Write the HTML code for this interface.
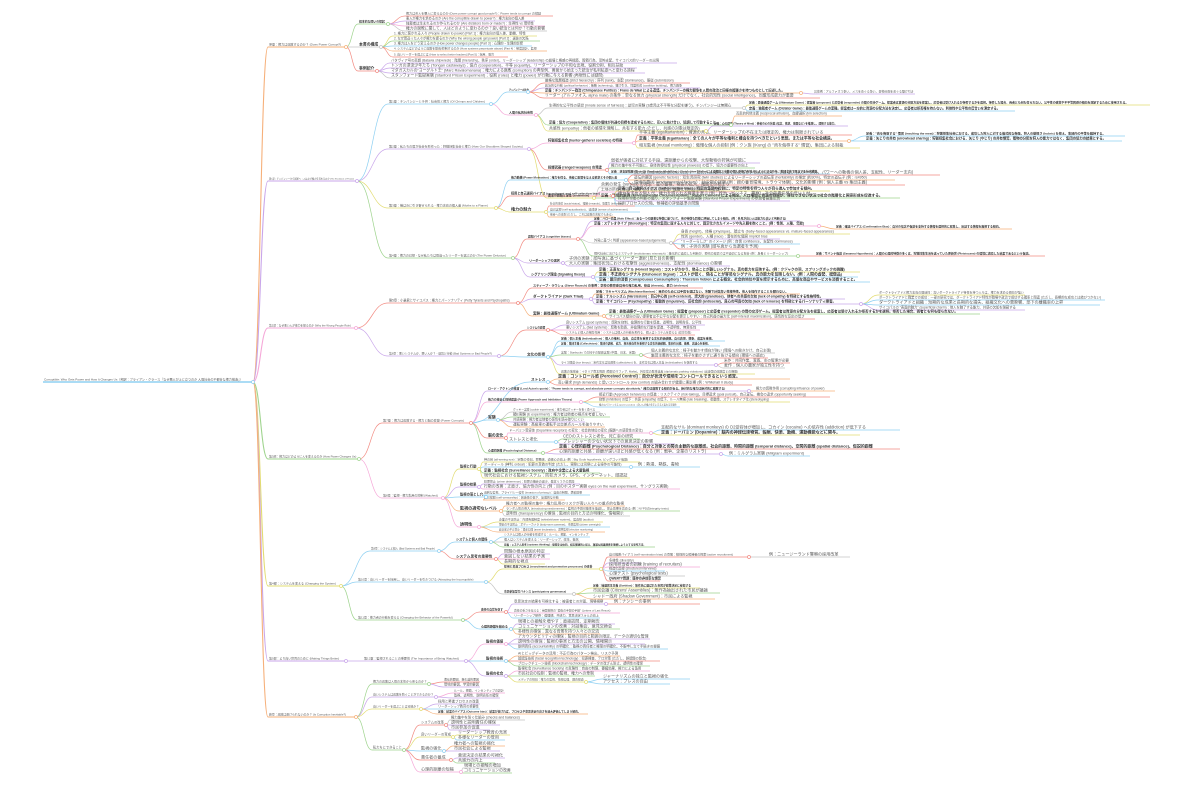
<!DOCTYPE html>
<html><head><meta charset="utf-8">
<style>
html,body{margin:0;padding:0;background:#fff;width:1200px;height:790px;overflow:hidden}
svg{display:block}
text{font-family:"Liberation Sans","Noto Sans CJK JP",sans-serif;fill:#5a5a5a}
text.b{fill:#333}
</style></head>
<body>
<svg id="s" width="1200" height="790" viewBox="0 0 1200 790" xmlns="http://www.w3.org/2000/svg"></svg>
<script>
const O='#f6b07a',G='#9fd48e',R='#f28b82',P='#c9a6ea',B='#8fd0f2',Y='#e2dc72',K='#f5a8d8',N='#c4c4c4';
const svg=document.getElementById('s');const NS='http://www.w3.org/2000/svg';
const lines=document.createElementNS(NS,'g');const dots=document.createElementNS(NS,'g');const texts=document.createElementNS(NS,'g');
texts.setAttribute('transform','scale(0.1)');
svg.appendChild(lines);svg.appendChild(texts);svg.appendChild(dots);
const dotted=new Set();
function est(t){let s=0;for(const ch of t){const c=ch.charCodeAt(0);s+=(c>0x2e80)?1:0.52;}return s;}
function n(p,x,y,end,c,t,b,fs){
  const o={x,y,end,c};
  const w=end-x;
  const sw=p?(p.p?0.7:1.1):1.4;
  const path=document.createElementNS(NS,'path');
  let d='';
  if(p){const sx=p.end+1,sy=p.y+1,mx=(sx+x)/2;d=`M${sx},${sy} C${mx},${sy} ${mx},${y+1} ${x},${y+1} `;}
  else d=`M${x},${y+1} `;
  d+=`L${end},${y+1}`;
  path.setAttribute('d',d);path.setAttribute('fill','none');path.setAttribute('stroke',c);path.setAttribute('stroke-width',sw);
  lines.appendChild(path);
  const te=document.createElementNS(NS,'text');
  te.setAttribute('x',(x+1)*10);te.setAttribute('y',(y-0.6)*10);
  let f=fs||4.1;
  const target=Math.max(4,w-2);
  const e=est(t)*f*(b?1.04:1);
  if(e>target)f=Math.max(2.2,f*target/e);
  te.setAttribute('font-size',(f*10).toFixed(1));
  if(b){te.setAttribute('font-weight','bold');te.setAttribute('class','b');}
  te.textContent=t;texts.appendChild(te);
  if(p&&!dotted.has(p)){dotted.add(p);const ci=document.createElementNS(NS,'circle');ci.setAttribute('cx',p.end+1);ci.setAttribute('cy',p.y+1);ci.setAttribute('r',1.5);ci.setAttribute('fill','#fff');ci.setAttribute('stroke',p.c);ci.setAttribute('stroke-width',0.7);dots.appendChild(ci);}
  o.p=p;return o;
}
const r=n(null,43,381,252,B,`Corruptible: Who Gets Power and How It Changes Us（邦訳：ブライアン・クラース『なぜ悪人が上に立つのか 人間社会の不都合な権力構造』）`,0,4.5);

/* 序章 */
const A=n(r,268,46,345,O,`序章：権力は腐敗するのか？ (Does Power Corrupt?)`,0,4.3);
const A1=n(A,358,23,387,G,`根本的な問いの提起`,1);
n(A1,405,15,553,R,`権力は善人を悪人に変えるのか (Does power corrupt good people?)：Power tends to corrupt の検証`);
n(A1,405,20,535,P,`悪人が権力を求めるのか (Are the corruptible drawn to power?)：権力志向の個人差`);
n(A1,405,25,545,K,`独裁者は生まれるのか作られるのか (Are dictators born or made?)：生得性 vs 環境性`);
n(A1,405,30,547,N,`権力の腐敗に関して、人はどのように変わるのか？良い統治とは何か？行動の影響`);
const A2=n(A,358,46,380,N,`本書の構成`,1);
n(A2,393,35,537,Y,`1. 権力に惹かれる人々 (People drawn to power) [Part 1]：権力志向の個人差、動機、特性`);
n(A2,393,40,540,G,`2. なぜ間違った人々が権力を握るのか (Why the wrong people get power) [Part 2]：選抜の欠陥`);
n(A2,393,45,532,B,`3. 権力は人をどう変えるのか (How power changes people) [Part 3]：心理的・生理的影響`);
n(A2,393,50,547,O,`4. システムはどのように腐敗を助長/抑制するのか (How systems perpetuate abuse) [Part 4]：制度設計、監視`);
n(A2,393,56,508,R,`5. 良いリーダーを選ぶには (How to select better leaders) [Part 5]：採用、教育`);
const A3=n(A,358,70,376,R,`事例紹介`,1);
n(A3,390,62,677,P,`バタヴィア号の悲劇 (Batavia shipwreck)：階層 (hierarchy)、秩序 (order)、リーダーシップ (leadership) の崩壊と権威の再構築、殺戮行為、恐怖支配、サイコパス的リーダーの出現`);
n(A3,390,67,637,P,`トンガの漂流少年たち (Tongan castaways)：協力 (cooperation)、平等 (equality)、リーダーシップの平和な出現、役割分担、相互扶助`);
n(A3,390,72,645,P,`マダガスカルの"ヨーグルト王" (Marc Ravalomanana)：権力による腐敗 (corruption) の典型例、善意から始まった統治が私利私欲へと変わる過程`);
n(A3,390,77,623,N,`スタンフォード監獄実験 (Stanford Prison Experiment)：役割 (roles) と権力 (power) が行動に与える影響 (再現性には疑問)`);

/* 第1部 */
const Bp=n(r,268,180,356,P,`第1部：チンパンジーから国家へ：人はなぜ権力を求めるのか (The Evolution of Power)`,0,4.3);
const B1=n(Bp,388,103,490,B,`第1章：チンパンジーと子供：社会性と権力 (Of Chimps and Children)`);
const B1a=n(B1,508,91,527,B,`チンパンジーの社会`,1);
n(B1a,544,82,690,R,`厳格な階層構造 (strict hierarchy)：序列 (rank)、支配 (dominance)、服従 (submission)`);
n(B1a,544,87,700,P,`政治的な行動 (political behavior)：策略 (scheming)、駆け引き、同盟形成 (coalition building)、権力闘争`);
const b13=n(B1a,544,92,800,O,`定義：チンパンジー政治 (Chimpanzee Politics)：Frans de Waal による造語。チンパンジーの権力闘争を人間の政治と同様の複雑さを持つものとして記述した。`,1);
n(b13,813,93,915,P,`具体例：アルファオス争い、メスをめぐる争い、食物分配をめぐる駆け引き`);
n(B1a,544,97,820,R,`リーダー (アルファオス, alpha male) の条件：単なる体力 (physical strength) だけでなく、社会的知性 (social intelligence)、同盟形成能力が重要`);
const B1b=n(B1,508,114,535,K,`人間の私的社会性`,1);
const b21=n(B1b,548,107,743,N,`生得的な公平性の感覚 (innate sense of fairness)：幼児の実験 (3歳児は不平等な分配を嫌う)、チンパンジーは無関心`);
n(b21,748,104,1150,Y,`定義：最後通牒ゲーム (Ultimatum Game)：提案者 (proposer) と応答者 (responder) の間の交渉ゲーム。提案者は資源の分配方法を提案し、応答者は受け入れるか拒否するかを選択。拒否した場合、両者とも何も得られない。公平性の感覚や不平等回避の傾向を測定するために使用される。`,1);
n(b21,748,110,1015,B,`定義：独裁者ゲーム (Dictator Game)：最後通牒ゲームの変種。提案者は一方的に資源の分配方法を決定し、応答者は拒否権を持たない。利他性や公平性の度合いを測定する。`,1);
const b22=n(B1b,548,124,730,G,`定義：協力 (Cooperative)：集団の個体が共通の目標を達成するために、互いに助け合い、協調して行動すること。`,1);
n(b22,735,115,842,O,`互恵的利他主義 (reciprocal altruism)、血縁選択 (kin selection)`);
const b23=n(B1b,548,130,705,Y,`共感性 (empathy)：他者の感情を理解し、共有する能力 (ただし、共感の対象は限定的)`);
n(b23,713,125,848,P,`定義：心の理論 (Theory of Mind)：他者の心の状態 (信念、欲求、意図など) を推測し、理解する能力。`,1);
const B2=n(Bp,388,148,528,P,`第2章：私たちの肩が社会を形作った：狩猟採集社会と権力 (How Our Shoulders Shaped Society)`);
const B2a=n(B2,547,142,633,K,`狩猟採集社会 (hunter-gatherer societies) の特徴`,1);
n(B2a,638,134,852,R,`平等主義 (egalitarianism)：資源の共有、リーダーシップの不在または限定的、権力は制限されている`);
const b2a2=n(B2a,638,140,848,O,`定義：平等主義 (Egalitarian)：全ての人々が平等な権利と機会を持つべきだという思想。または平等な社会構造。`,1);
n(b2a2,865,135,1125,B,`定義："肉を侮辱する" 慣習 (insulting the meat)：狩猟採集社会における、成功した狩人に対する儀式的な侮辱。狩人の傲慢さ (hubris) を抑え、集団内の平等を維持する。`,1);
n(b2a2,865,140,1122,B,`定義：矢じりの共有 (arrowhead sharing)：狩猟採集社会における、矢じり (やじり) の共有慣習。獲物の分配を狩人の能力ではなく、集団の協力の結果とする。`,1);
n(B2a,638,147,860,Y,`相互監視 (mutual monitoring)：傲慢な個人の抑制 (例：クン族 (!Kung) の "肉を侮辱する" 慣習)、集団による制裁`);
const B2b=n(B2,547,169,606,R,`投擲武器 (ranged weapons) の発達`,1);
n(B2b,610,162,760,P,`弱者が強者に対抗する手段、遠距離からの攻撃、大型動物の狩猟が可能に`);
n(B2b,610,167,755,G,`権力の集中を不可能に、身体的優位性 (physical prowess) の低下、協力の重要性の向上`);
n(B2b,610,173,830,B,`定義：逆支配階層 (Reverse Dominance Hierarchy)：Christopher Boehm による概念。少数の個人が権力を独占しようとするのを、集団全体で阻止する社会構造。`,1);
const B2c=n(B2,547,197,593,Y,`農業の開始と定住 (sedentism)`,1);
n(B2c,600,186,760,N,`余剰の発生 (surplus) の発生：富の蓄積、格差の拡大、階層化の始まり`);
n(B2c,600,191,735,K,`土地の所有と防衛：戦争 (warfare) の増加、階層化 (stratification) の促進`);
n(B2c,600,197,900,G,`定義：環境的限界 (Environmental Circumscription)：Robert Carneiro による概念。人口増加と資源の制限が、移住できない状況で社会の階層化と国家形成を促進する。`,1);
const B3=n(Bp,388,207,495,Y,`第3章：蛾は炎に引き寄せられる - 権力志向の個人差 (Moths to a Flame)`);
const B3a=n(B3,510,179,625,B,`権力動機 (Power Motivation)：権力を得る、他者に影響を与える欲求とその個人差`,1);
n(B3a,633,174,940,R,`個人差 (individual differences)：一部の人は権力を強く求めるが、他の人はそうではない (ステータス、パワーへの動機の個人差、支配性、リーダー志向)`);
n(B3a,633,179,895,O,`遺伝的要因 (genetic factors)：双生児研究 (twin studies) によるリーダーシップの遺伝率 (heritability) の推定 (約30%)、特定の遺伝子 (例：rs4950)`);
n(B3a,633,184,905,R,`環境的要因 (environmental factors)：幼少期の経験 (例：親の養育環境、トラウマ体験)、文化的影響 (例：個人主義 vs 集団主義)`);
const B3b=n(B3,510,195,612,R,`採用と自己選択バイアス (recruitment and self-selection bias)`,1);
n(B3b,617,190,830,Y,`定義：自己選択バイアス (Self-Selection Bias)：特定の集団や役割に、特定の特性を持つ人々が自ら進んで参加する傾向。`,1);
n(B3b,617,195,823,G,`権力を求める個人が、権力を得られる職業を選ぶ (例：政治、ビジネス、警察)、社会的責任感の低い人材`);
n(B3b,617,200,790,P,`採用担当者の判断の偏り、スタンフォード監獄実験 (Stanford Prison Experiment) の参加者募集広告`);
n(B3b,617,205,700,B,`採用プロセスの欠陥、候補者の評価基準の問題`);
const B3c=n(B3,510,211,545,Y,`権力の魅力`,1);
n(B3c,549,205,635,R,`社会的地位 (social status)、報酬 (rewards)、影響力 (influence)`);
n(B3c,549,211,640,B,`自己実現 (self-actualization)、達成感 (sense of achievement)`);
n(B3c,549,216,615,O,`他者への支配 (ただし、これは腐敗の兆候でもある)`);
const B4=n(Bp,388,257,512,G,`第4章：権力の幻想 - なぜ私たちは間違ったリーダーを選ぶのか (The Power Delusion)`);
const B4a=n(B4,527,238,577,R,`認知バイアス (cognitive biases)`,1);
n(B4a,593,220,800,P,`定義：ハロー効果 (Halo Effect)：ある一つの顕著な特徴に基づいて、他の特徴も同様に評価してしまう傾向。(例：外見が良い人は能力も高いと判断する)`,1);
const b4a2=n(B4a,593,225,818,K,`定義：ステレオタイプ (Stereotype)：特定の集団に属する人々に対して、固定化されたイメージや先入観を抱くこと。(例：性別、人種、年齢)`,1);
n(b4a2,835,228,1012,O,`定義：確証バイアス (Confirmation Bias)：自分の信念や仮説を支持する情報を選択的に収集し、反証する情報を無視する傾向。`,1);
const b4a3=n(B4a,593,242,670,N,`外見に基づく判断 (appearance-based judgements)`);
n(b4a3,680,233,850,Y,`身長 (height)、体格 (physique)、顔立ち (baby-faced appearance vs. mature-faced appearance)`);
n(b4a3,680,238,780,P,`性別 (gender)、人種 (race)：潜在的な偏見 implicit bias`);
n(b4a3,680,243,800,B,`"リーダーらしさ" のイメージ (例：自信 confidence、支配性 dominance)`);
n(b4a3,680,248,790,R,`例：子供の実験 (顔写真から当選者を予測)`);
const b4a4=n(B4a,593,255,797,G,`現代社会におけるミスマッチ (evolutionary mismatch)：進化的に適応した判断が、現代の環境では不適切になる場合 (例：身長とリーダーシップ)`);
n(b4a4,815,255,1045,R,`定義：サバンナ仮説 (Savanna Hypothesis)：人間の心理的特徴の多くは、狩猟採集生活を送っていた更新世 (Pleistocene) の環境に適応した結果であるという仮説。`,1);
const B4b=n(B4,528,262,562,P,`リーダーシップの選択`,1);
n(B4b,568,260,700,N,`子供の実験：顔写真に基づくリーダー選択 (見た目の影響)`);
n(B4b,568,265,730,P,`大人の実験：集団状況における攻撃性 (aggressiveness)、支配性 (dominance) の影響`);
const B4c=n(B4,530,276,592,P,`シグナリング理論 (Signaling theory)`,1);
n(B4c,598,271,860,Y,`定義：正直なシグナル (Honest Signal)：コストがかかり、偽ることが難しいシグナル。真の能力を反映する。(例：クジャクの羽、スプリングボックの跳躍)`,1);
n(B4c,598,276,858,B,`定義：不正直なシグナル (Dishonest Signal)：コストが低く、偽ることが容易なシグナル。真の能力を反映しない。(例：人間の虚勢、模倣品)`,1);
n(B4c,598,281,870,B,`定義：顕示的消費 (Conspicuous Consumption)：Thorstein Veblen による概念。社会的地位や富を誇示するために、高価な商品やサービスを消費すること。`,1);

/* 第2部 */
const C=n(r,268,327,355,K,`第2部：なぜ悪い人が権力を握るのか (Why the Wrong People Rule)`,0,4.3);
const C1=n(C,388,302,517,R,`第5章：小暴君とサイコパス：権力とパーソナリティ (Petty Tyrants and Psychopaths)`);
n(C1,532,287,703,R,`スティーブ・ラウシュ (Steve Rausch) の事例：学校の教育委員会の権力乱用、脅迫 (threats)、暴力 (violence)`,1);
const C1b=n(C1,532,298,590,P,`ダークトライアド (Dark Triad)`,1);
n(C1b,595,293,800,O,`定義：マキャベリズム (Machiavellianism)：目的のためには手段を選ばない、冷酷で計算高い性格特性。他人を操作することを厭わない。`,1);
n(C1b,595,298,845,P,`定義：ナルシシズム (Narcissism)：自己中心的 (self-centered)、誇大的 (grandiose)、他者への共感の欠如 (lack of empathy) を特徴とする性格特性。`,1);
const c13=n(C1b,595,303,860,P,`定義：サイコパシー (Psychopathy)：衝動的 (impulsive)、反社会的 (antisocial)、良心の呵責の欠如 (lack of remorse) を特徴とするパーソナリティ障害。`,1);
n(c13,878,294,1025,Y,`ダークトライアドと権力志向の関連性：高いダークトライアド特性を持つ人々は、権力を求める傾向が強い`);
n(c13,878,299,1105,B,`ダークトライアドと職業での成功：一部の研究では、ダークトライアド特性が職場や政治で成功する確率と関連 (ただし、長期的な成功とは結びつかない)`);
n(c13,878,304,1100,B,`ダークトライアドと組織：短期的な成果と長期的な損失、組織文化への悪影響、部下の離職率の上昇`);
n(c13,878,309,1025,P,`サイコパスの "表面的魅力" (superficial charm)：他人を魅了する能力、共感の欠如を隠蔽する`);
const C1c=n(C1,532,315,603,O,`実験：最後通牒ゲーム (Ultimatum Game)`,1);
n(C1c,608,313,980,G,`定義：最後通牒ゲーム (Ultimatum Game)：提案者 (proposer) と応答者 (responder) の間の交渉ゲーム。提案者は資源の分配方法を提案し、応答者は受け入れるか拒否するかを選択。拒否した場合、両者とも何も得られない。`,1);
n(C1c,608,318,815,R,`サイコパス傾向の高い提案者は不公平な分配を提示しやすい：自己利益の最大化 (self-interest maximization)、感情的な反応の低さ`);
const C2=n(C,388,355,498,P,`第6章：悪いシステムか、悪い人か？ - 環境と行動 (Bad Systems or Bad People?)`);
const C2a=n(C2,526,329,547,R,`システムの影響`,1);
n(C2a,565,324,705,P,`良いシステム (good systems)：腐敗を抑制、倫理的な行動を促進、透明性、説明責任、公平性`);
n(C2a,565,329,700,K,`悪いシステム (bad systems)：腐敗を助長、非倫理的な行動を促進、不透明性、無責任性`);
n(C2a,565,334,695,R,`システムと個人の相互作用：システムは個人の行動を形作る、個人はシステムを変える (双方向性)`);
const C2b=n(C2,526,356,547,B,`文化の影響`,1);
n(C2b,560,340,725,B,`定義：個人主義 (Individualism)：個人の権利、自由、自立性を重視する文化的価値観。自己表現、競争、成果を重視。`,1);
n(C2b,560,345,720,B,`定義：集団主義 (Collectivism)：集団の調和、協力、相互依存性を重視する文化的価値観。集団の目標、義務、忠誠心を重視。`,1);
const c2b3=n(C2b,560,354,640,G,`実験：Starbucks での椅子の配置実験 (中国、日本、米国)`);
n(c2b3,650,352,775,N,`個人主義的な文化：椅子を動かす傾向が強い (環境への働きかけ、自己主張)`);
n(c2b3,650,357,768,R,`集団主義的な文化：椅子を動かさずに通り抜ける傾向 (環境への適応)`);
const c2b4=n(C2b,560,364,715,P,`ライス理論 (rice theory)：米作文化は協調性 (collectivism) を、麦作文化は個人主義 (individualism) を促進する`);
n(c2b4,723,362,790,R,`米作：共同作業、灌漑、水の管理が必要`);
n(c2b4,723,367,785,N,`麦作：個人の農家が独立性を持つ`);
n(C2b,560,373,755,Y,`腐敗の地域差：イタリア南北問題 (南部のマフィア, Mafia)、外交官の駐車違反 (diplomatic parking violations) (出身国の腐敗度との相関)`);

/* 第3部 */
const D=n(r,268,458,358,G,`第3部：権力はどのように人を変えるのか (How Power Changes Us)`,0,4.3);
const D1=n(D,382,422,470,R,`第7章：権力は腐敗する - 権力と脳の変容 (Power Corrupts)`);
const Ds=n(D1,530,381,547,B,`ストレス`,1);
n(Ds,557,378,790,O,`定義：コントロール感 (Perceived Control)：自分が状況や環境をコントロールできるという感覚。`,1);
n(Ds,557,384,752,R,`高い要求 (high demands) と低いコントロール (low control) の組み合わせが健康に悪影響 (例：Whitehall II study)`);
const Da=n(D1,487,390,748,P,`ロード・アクトンの格言 (Lord Acton's quote)："Power tends to corrupt, and absolute power corrupts absolutely." (権力は腐敗する傾向がある。絶対的な権力は絶対的に腐敗する)`,1);
n(Da,755,390,835,O,`権力の腐敗作用 (corrupting influence of power)`);
const Db=n(D1,487,401,580,K,`権力の接近と抑制理論 (Power Approach and Inhibition Theory)`,1);
n(Db,598,396,830,R,`接近行動 (Approach behaviors) の促進：リスクテイク (risk-taking)、目標追求 (goal pursuit)、自己宣伝、機会の追求 (opportunity seeking)`);
n(Db,598,401,790,Y,`抑制 (inhibition) の低下：共感 (empathy) の低下、ルール無視 (rule breaking)、衝動性、ステレオタイプ化 (stereotyping)`);
n(Db,598,406,680,B,`権力のパラドックス (power paradox)：良い人が権力を手にすると変わる可能性`);
const Dc=n(D1,487,419,497,B,`実験`,1);
n(Dc,512,411,600,N,`クッキー実験 (cookie experiment)：権力者はクッキーを多く食べる`);
n(Dc,512,416,610,G,`額E実験 (E experiment)：権力者は他者の視点を考慮しない`);
n(Dc,512,421,585,P,`共感実験：権力者は他者の感情を読み取りにくい`);
n(Dc,512,426,605,O,`運転実験：高級車の運転手は交差点ルールを破りやすい`);
const Dd=n(D1,487,437,505,R,`脳の変化`,1);
const dd1=n(Dd,508,432,650,K,`ドーパミン受容体 (Dopamine receptors) の変化：社会的地位の変化 (報酬への感受性の変化)`);
n(dd1,660,429,900,B,`支配的なサル (dominant monkeys) の D2受容体が増加し、コカイン (cocaine) への依存性 (addiction) が低下する`);
n(dd1,660,434,860,Y,`定義：ドーパミン (Dopamine)：脳内の神経伝達物質。報酬、快楽、動機、運動機能などに関与。`,1);
const dd2=n(Dd,508,441,555,B,`ストレスと老化`);
n(dd2,562,438,640,G,`CEOのストレスと老化、死亡率の研究`);
n(dd2,562,443,675,P,`プレッシャーの少ない状況下での意思決定の影響`);
const De=n(D1,487,452,542,G,`心理的距離 (Psychological Distance)`,1);
n(De,558,448,900,R,`定義：心理的距離 (Psychological Distance)：自分と対象との間の主観的な距離感。社会的距離、時間的距離 (temporal distance)、空間的距離 (spatial distance)、仮説的距離`,1);
const de2=n(De,558,453,720,P,`心理的距離と共感：距離が遠いほど共感が低くなる (例：戦争、企業のリストラ)`);
n(de2,728,455,810,B,`例：ミルグラム実験 (Milgram experiment)`);
const D2=n(D,382,497,442,K,`第8章：監視 - 権力乱用の抑制 (Watched)`);
const Dm1=n(D2,459,468,478,Y,`監視と行動`,1);
n(Dm1,483,461,640,Y,`神の目 (all-seeing eye)：宗教の役割、罪悪感、道徳心の向上 (例：Big Gods hypothesis, ビッグゴッド仮説)`);
const dm12=n(Dm1,483,466,630,B,`オーディール (神判, ordeal)：犯罪の真偽の判定 (ただし、実際には司祭による操作の可能性)`);
n(dm12,637,466,700,B,`例：熱湯、熱鉄、毒物`);
n(Dm1,483,472,600,G,`定義：監視社会 (Surveillance Society)：政府や企業による大量監視`,1);
n(Dm1,483,477,630,Y,`現代社会における監視システム：防犯カメラ、GPS、インターネット、顔認証`);
const Dm2=n(D2,459,486,478,P,`監視の効果`,1);
n(Dm2,483,483,580,P,`犯罪抑止 (crime deterrence)：犯罪の機会の減少、発覚リスクの増加`);
n(Dm2,483,488,680,K,`行動の改善：正直さ、協力性の向上 (例：目のポスター実験 eyes on the wall experiment、サングラス実験)`);
const Dm3=n(D2,459,496,485,B,`監視の落とし穴`,1);
n(Dm3,483,494,590,B,`過剰な監視、プライバシー侵害 (invasion of privacy)：自由の制限、萎縮効果`);
n(Dm3,483,499,565,O,`自己検閲 (self-censorship)：創造性の低下、反発的な行動`);
const Dm4=n(D2,459,510,500,O,`監視の適切なレベル`,1);
n(Dm4,505,505,625,O,`権力者への監視の集中：権力乱用のリスクが高い人々への重点的な監視`);
n(Dm4,505,510,680,G,`ランダム性の導入 (introducing randomness)：監視の予測可能性を低減し、抑止効果を高める (例：NYPDのintegrity tests)`);
n(Dm4,505,515,630,N,`透明性 (transparency) の確保：監視の目的と方法の明確化、情報開示`);
const Dm5=n(D2,459,526,478,K,`透明性`,1);
n(Dm5,498,521,603,Y,`企業の不正防止：内部告発制度 (whistleblower system)、監査役 (auditor)`);
n(Dm5,498,526,610,B,`警察の不正防止：ボディーカメラ (body-worn cameras)、市民監視 (citizen oversight)`);
n(Dm5,498,531,605,O,`政治家の不正防止：資産公開 (asset declaration)、選挙監視 (election monitoring)`);

/* 第4部 */
const E=n(r,268,585,340,Y,`第4部：システムを変える (Changing the System)`,0,4.3);
const E1=n(E,370,550,438,B,`第9章：システムと個人 (Bad Systems and Bad People)`);
const E1a=n(E1,455,541,490,B,`システムと個人の関係`,1);
n(E1a,503,536,590,B,`システムは個人の行動を形成する：ルール、規範、インセンティブ`);
n(E1a,503,541,580,N,`個人はシステムを変える：リーダーシップ、改革、抵抗`);
n(E1a,503,546,655,G,`定義：システム思考 (systems thinking)：問題を全体的、相互関連的に捉え、複雑な因果関係を理解しようとする思考方法。`,1);
const E1b=n(E1,455,558,495,R,`システム思考の重要性`,1);
n(E1b,503,553,550,P,`問題の根本原因の特定`);
n(E1b,503,558,550,K,`意図しない結果の予測`);
n(E1b,503,563,545,Y,`長期的な視点`);
const E2=n(E,357,581,485,B,`第10章：良いリーダーを採用し、良いリーダーを引きつける (Attracting the Incorruptible)`);
const E2a=n(E2,503,568,600,Y,`採用と昇進プロセス (recruitment and promotion processes) の改善`,1);
const e2a1=n(E2a,608,556,748,R,`自己推薦バイアス (self-nomination bias) の克服：積極的な候補者の探索 (active recruitment)`);
n(e2a1,768,556,850,N,`例：ニュージーランド警察の採用改革`);
n(E2a,608,562,640,P,`多様性 (diversity)`);
n(E2a,608,566,700,K,`採用担当者の訓練 (training of recruiters)`);
n(E2a,608,570,665,B,`構造化面接 (structured interviews)`);
n(E2a,608,575,685,N,`心理テスト (psychological tests)`);
n(E2a,608,580,660,R,`QWERTY問題：既存の非効率な慣習`,1);
const E2b=n(E2,503,593,573,N,`市民参加型ガバナンス (participatory governance)`,1);
n(E2b,592,587,700,Y,`定義：抽選民主主義 (Sortition)：無作為に選ばれた市民が政策決定に参加する`,1);
n(E2b,592,592,720,G,`市民会議 (Citizens' Assemblies)：無作為抽出された市民が議論`);
n(E2b,592,598,715,O,`シャドー政府 (Shadow Government)：市民による監視`);
const E3=n(E,357,619,462,G,`第11章：権力者の行動を変える (Changing the Behavior of the Powerful)`);
const E3a=n(E3,480,611,505,R,`責任の自覚を促す`,1);
const e3a1=n(E3a,513,603,605,P,`意思決定の結果を可視化する：被害者との対面、現場視察`);
n(e3a1,613,603,700,R,`例：ナンシーの事例`);
n(E3a,513,612,620,K,`責任の重さを伝える：英国首相の "最後の手段の手紙" (Letters of Last Resort)`);
n(E3a,513,617,600,B,`リーダーシップ研修：倫理観、共感力、意思決定スキルの向上`);
const E3b=n(E3,480,628,510,B,`心理的距離を縮める`,1);
n(E3b,517,623,615,P,`現場との接触を増やす：直接訪問、定期報告`);
n(E3b,517,628,620,G,`コミュニケーションの改善：対話集会、意見交換会`);
n(E3b,517,633,600,O,`多様性の確保：異なる背景を持つ人々との交流`);

/* 第5部 */
const F=n(r,268,660,345,P,`第5部：より良い世界のために (Making Things Better)`,0,4.3);
const F1=n(F,363,660,465,P,`第12章：監視されることの重要性 (The Importance of Being Watched)`);
const F1a=n(F1,485,643,505,K,`監視の価値`,1);
n(F1a,517,638,650,P,`アカウンタビリティの確保：監視の目的と範囲の限定、データの適切な管理`);
n(F1a,517,643,645,P,`透明性の確保：監視の事実と方法の公開、情報開示`);
n(F1a,517,648,668,B,`説明責任 (accountability) の明確化：監視の責任者と権限の明確化、不服申し立て手続きの整備`);
const F1b=n(F1,485,660,505,B,`監視の技術`,1);
n(F1b,517,655,620,O,`AIとビッグデータの活用：不正行為のパターン検出、リスク予測`);
n(F1b,517,660,660,R,`顔認証技術 (facial recognition technology)：犯罪捜査、テロ対策 (ただし、誤認識の懸念)`);
n(F1b,517,665,650,G,`ブロックチェーン技術 (blockchain technology)：データの改ざん防止、透明性の確保`);
const F1c=n(F1,485,675,505,P,`監視の社会`,1);
n(F1c,517,670,650,K,`監視社会 (Surveillance Society) の危険性：自由の制限、萎縮効果、権力による濫用`);
n(F1c,517,675,595,G,`市民社会の役割：監視の監視、権力への牽制`);
const f1c3=n(F1c,517,681,585,Y,`メディアの役割：権力の監視、情報公開、調査報道`);
n(f1c3,602,678,690,B,`ジャーナリズムの独立と監視の強化`);
n(f1c3,602,683,670,B,`アクセス：プレスの自由`);

/* 終章 */
const Gz=n(r,268,716,355,O,`終章：腐敗は避けられないのか？ (Is Corruption Inevitable?)`,0,4.3);
const G1=n(Gz,372,683,428,G,`権力の腐敗は人間の本性から来るのか？`);
n(G1,443,681,480,R,`遺伝的要因、進化論的要因`);
n(G1,443,686,480,P,`環境的要因、学習的要因`);
const G2=n(Gz,372,696,435,P,`良いシステムは腐敗を防ぐことができるのか？`);
n(G2,453,692,505,K,`ルール、規範、インセンティブの設計`);
n(G2,453,697,500,P,`監視、透明性、説明責任の確保`);
const G3=n(Gz,372,708,420,Y,`良いリーダーを選ぶことは可能か？`);
n(G3,437,703,480,P,`採用と昇進プロセスの改善`);
n(G3,437,708,480,B,`リーダーシップ教育の重要性`);
n(G3,437,713,588,O,`定義：結果のバイアス (Outcome bias)：結果が良ければ、プロセスや意思決定の良さを過大評価してしまう傾向。`,1);
const G4=n(Gz,372,749,403,G,`私たちにできること`);
const g41=n(G4,420,724,445,R,`システムの改革`);
n(g41,450,719,525,N,`権力集中を防ぐ仕組み (checks and balances)`);
n(g41,450,724,500,P,`透明性と説明責任の確保`);
n(g41,450,729,490,P,`市民参加の促進`);
const g42=n(G4,420,736,452,Y,`良いリーダーの育成`);
n(g42,457,734,510,Y,`リーダーシップ教育の充実`);
n(g42,457,739,505,B,`多様なリーダーの登用`);
const g43=n(G4,420,750,443,B,`監視の強化`);
n(g43,453,745,505,O,`権力者への監視の強化`);
n(g43,453,750,500,P,`市民社会による監視`);
const g44=n(G4,420,759,450,R,`責任者の養成`);
n(g44,457,757,505,P,`意思決定の結果の可視化`);
n(g44,457,762,495,G,`共感力の向上`);
const g45=n(G4,420,771,460,K,`心理的距離の短縮`);
n(g45,463,767,505,N,`現場との接触の増加`);
n(g45,463,772,512,G,`コミュニケーションの改善`);
</script>
</body></html>
